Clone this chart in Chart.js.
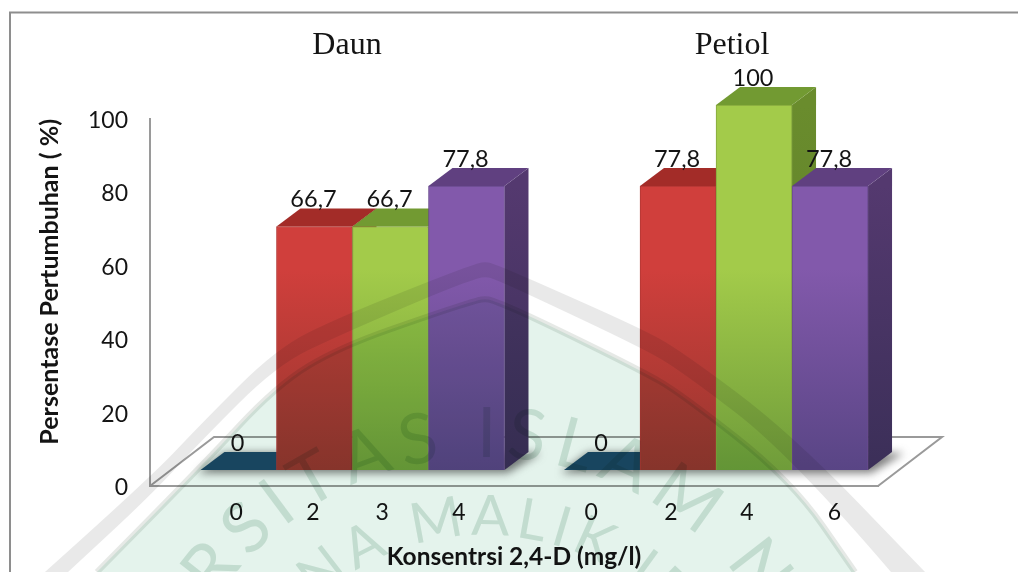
<!DOCTYPE html>
<html><head><meta charset="utf-8">
<style>html,body{margin:0;padding:0;background:#fff}canvas{display:block}</style>
<script src="https://cdn.jsdelivr.net/npm/chart.js@4"></script>
</head><body><canvas id="c" width="1018" height="572"></canvas>
<script>
const groupTitles = ['Daun', 'Petiol'];
const daunCategories = ['0', '2', '3', '4'];
const petiolCategories = ['0', '2', '4', '6'];
const daunValues = [0, 66.7, 66.7, 77.8];
const petiolValues = [0, 77.8, 100, 77.8];
const yTickValues = [0, 20, 40, 60, 80, 100];
const yAxisTitle = 'Persentase Pertumbuhan ( %)';
const xAxisTitle = 'Konsentrsi 2,4-D (mg/l)';

const GROUP_SHIFT = 4.783;
const xTickSlots = [-0.03, 0.98, 1.89, 2.90, 4.64, 5.69, 6.69, 7.84];
const DEPTH_X = 24, DEPTH_Y = 18;
const FONT = 'Lato, Carlito, sans-serif';
const INK = '#141414';

const palette = [
  { top:'#d03f3c', bot:'#96362e', side:'#8e2a26', side2:'#8e2a26', cap:'#a32c28', edge:'#b23633' },
  { top:'#a3cb4a', bot:'#6f9c3a', side:'#6a8c2d', side2:'#5c7d28', cap:'#729a32', edge:'#84a63c' },
  { top:'#8259ab', bot:'#594585', side:'#54396f', side2:'#3b2f58', cap:'#604080', edge:'#694a8e' },
  { top:'#1d4a6c', bot:'#1d4a6c', side:'#1d4a6c', side2:'#1d4a6c', cap:'#1a4867', edge:'#1a4867' }
];
const colourOrder = [3, 0, 1, 2];

function pts(list){ return list.map(p => ({x:p[0], y:p[1]})); }
const arcOuter = pts([[45,572],[150,478],[200,425],[277,348],[340,317],[440,277],[478,263],[485,262],[492,263],[530,279],[640,328],[680,350],[791,433],[925,572]]);
const arcInner = pts([[68,572],[150,496],[200,442],[277,365],[340,335],[440,292],[478,278],[485,277],[492,278],[530,295],[640,347],[680,370],[791,455],[891,572]]);
const discEdge = pts([[97,572],[200,468],[277,385],[340,347],[440,312],[478,300],[485,299],[492,300],[530,316],[640,370],[680,393],[791,480],[855,572]]);

function traceCurve(ctx, list, reverse){
  const l = reverse ? list.slice().reverse() : list;
  ctx.lineTo(l[0].x, l[0].y);
  for (let i=1;i<l.length-1;i++){
    const mx=(l[i].x+l[i+1].x)/2, my=(l[i].y+l[i+1].y)/2;
    ctx.quadraticCurveTo(l[i].x,l[i].y,mx,my);
  }
  ctx.lineTo(l[l.length-1].x,l[l.length-1].y);
}

function arcText(ctx, str, cx, cy, R, font, gap, anchorIndex, anchorAngle, colour){
  ctx.save();
  ctx.font = font; ctx.fillStyle = colour; ctx.textAlign='center'; ctx.textBaseline='alphabetic';
  const adv = [...str].map(ch => ctx.measureText(ch).width + gap);
  let before = 0; for (let i=0;i<anchorIndex;i++) before += adv[i];
  let a = anchorAngle - (before + adv[anchorIndex]/2)/R;
  [...str].forEach((ch,i)=>{
    const mid = a + adv[i]/2/R;
    ctx.save(); ctx.translate(cx+Math.sin(mid)*R, cy-Math.cos(mid)*R); ctx.rotate(mid);
    ctx.fillText(ch,0,0); ctx.restore();
    a += adv[i]/R;
  });
  ctx.restore();
}

const scene = {
  id:'scene',
  beforeDraw(chart){
    const {ctx, chartArea:a} = chart;
    ctx.save();
    ctx.fillStyle='#fff'; ctx.fillRect(0,0,1018,572);
    ctx.strokeStyle='#8e8e8e'; ctx.lineWidth=2;
    ctx.beginPath(); ctx.moveTo(10,572); ctx.lineTo(10,12.5); ctx.lineTo(1018,12.5); ctx.stroke();
    ctx.strokeStyle='#9a9a9a';
    const dx=64, dy=49;
    ctx.beginPath(); ctx.moveTo(a.left,a.bottom); ctx.lineTo(a.left+dx,a.bottom-dy); ctx.lineTo(a.right+dx,a.bottom-dy); ctx.lineTo(a.right,a.bottom); ctx.stroke();
    ctx.restore();
  },
  beforeDatasetsDraw(chart){
    const {ctx} = chart;
    const items=[];
    chart.data.datasets.forEach((ds,di)=>{
      chart.getDatasetMeta(di).data.forEach((el,i)=>items.push({el,i}));
    });
    items.sort((p,q)=>p.el.x-q.el.x);
    ctx.save();
    ctx.filter='blur(4px)'; ctx.fillStyle='rgba(70,70,70,.7)';
    chart.data.datasets.forEach((ds,di)=>{
      const d=chart.getDatasetMeta(di).data, f=d[0], l=d[d.length-1];
      const L=f.x-f.width/2, R=l.x+l.width/2, B=l.base;
      ctx.beginPath(); ctx.moveTo(L-3,B+3); ctx.lineTo(R+3,B+3); ctx.lineTo(R+DEPTH_X+12,B-DEPTH_Y+1); ctx.lineTo(L+DEPTH_X,B-DEPTH_Y+1); ctx.closePath(); ctx.fill();
    });
    ctx.restore();
    items.forEach(({el,i})=>{
      const c=palette[colourOrder[i]];
      const L=el.x-el.width/2, R=el.x+el.width/2, T=el.y, B=el.base;
      if (B-T>1){
        const g=ctx.createLinearGradient(0,T,0,B); g.addColorStop(0,c.side); g.addColorStop(1,c.side2);
        ctx.fillStyle=g;
        ctx.beginPath(); ctx.moveTo(R,T); ctx.lineTo(R+DEPTH_X,T-DEPTH_Y); ctx.lineTo(R+DEPTH_X,B-DEPTH_Y); ctx.lineTo(R,B); ctx.closePath(); ctx.fill();
      }
      ctx.fillStyle=c.cap;
      ctx.beginPath(); ctx.moveTo(L,T); ctx.lineTo(L+DEPTH_X,T-DEPTH_Y); ctx.lineTo(R+DEPTH_X,T-DEPTH_Y); ctx.lineTo(R,T); ctx.closePath(); ctx.fill();
    });
  },
  afterDatasetsDraw(chart){
    const {ctx} = chart;
    ctx.save();
    ctx.font='23.5px '+FONT; ctx.fillStyle=INK; ctx.textAlign='center'; ctx.textBaseline='middle';
    chart.data.datasets.forEach((ds,di)=>{
      chart.getDatasetMeta(di).data.forEach((el,i)=>{
        ctx.fillText(String(ds.data[i].y).replace('.',','), el.x-1, el.y-27);
      });
    });
    ctx.font='32px "Liberation Serif", serif';
    ctx.fillText(groupTitles[0],347,46);
    ctx.fillText(groupTitles[1],732,46);
    ctx.restore();
  },
  afterDraw(chart){
    const {ctx} = chart;
    ctx.save();
    ctx.globalCompositeOperation='multiply';
    ctx.fillStyle='#e9e9e9';
    ctx.beginPath(); ctx.moveTo(arcOuter[0].x,arcOuter[0].y);
    traceCurve(ctx,arcOuter,false); traceCurve(ctx,arcInner,true); ctx.closePath(); ctx.fill();
    ctx.fillStyle='#e4f3ec';
    ctx.beginPath(); ctx.moveTo(discEdge[0].x,discEdge[0].y);
    traceCurve(ctx,discEdge,false); ctx.closePath(); ctx.fill();
    ctx.strokeStyle='#e6e9e6'; ctx.lineWidth=6;
    ctx.beginPath(); ctx.moveTo(discEdge[0].x,discEdge[0].y);
    traceCurve(ctx,discEdge,false); ctx.stroke();
    arcText(ctx,'UNIVERSITAS ISLAM NEGERI',485,782,325,'400 70px Lato, sans-serif',9,12,0.005,'#d9e7e0');
    arcText(ctx,'MAULANA MALIK IBRAHIM',485,785,250,'400 56px Lato, sans-serif',6,9,0.02,'#d9e7e0');
    ctx.restore();
  }
};

function frontFill(ctx){
  const chart=ctx.chart, y=chart.scales.yBar;
  const c=palette[colourOrder[ctx.dataIndex] ?? 0];
  if(!y) return c.top;
  const y0=y.getPixelForValue(100), y1=y.getPixelForValue(0);
  if(!Number.isFinite(y0)||!Number.isFinite(y1)) return c.top;
  const g=chart.ctx.createLinearGradient(0,y0,0,y1);
  g.addColorStop(0,c.top); g.addColorStop(.45,c.top); g.addColorStop(1,c.bot);
  return g;
}
function frontEdge(ctx){ return palette[colourOrder[ctx.dataIndex] ?? 0].edge; }
function seriesPoints(values, shift){ return values.map((v,i)=>({x:i+shift,y:v})); }

const dsCommon = { yAxisID:'yBar', xAxisID:'x', clip:false, grouped:false, barThickness:76,
  backgroundColor:frontFill, borderColor:frontEdge, borderWidth:1 };

new Chart(document.getElementById('c').getContext('2d'),{
  type:'bar',
  data:{ datasets:[
    Object.assign({label:groupTitles[0],data:seriesPoints(daunValues,0)},dsCommon),
    Object.assign({label:groupTitles[1],data:seriesPoints(petiolValues,GROUP_SHIFT)},dsCommon)
  ]},
  options:{
    responsive:false, animation:false, events:[],
    layout:{padding:{top:119,right:140,left:0,bottom:0}},
    plugins:{legend:{display:false},title:{display:false},tooltip:{enabled:false}},
    scales:{
      x:{ type:'linear', position:'bottom', min:-1.164, max:8.414, offset:false,
        grid:{display:false,drawTicks:false}, border:{display:true,color:'#9a9a9a',width:2},
        afterBuildTicks(s){ s.ticks=xTickSlots.map(v=>({value:v})); },
        afterFit(s){ s.height=86; },
        ticks:{ autoSkip:false, maxRotation:0, padding:13, color:INK, font:{family:FONT,size:23},
          callback(v,i){ return daunCategories.concat(petiolCategories)[i]; } },
        title:{display:true,text:xAxisTitle,color:INK,font:{family:FONT,size:24.5,weight:'bold'},padding:{top:0,bottom:0}}
      },
      y:{ type:'linear', position:'left', min:0, max:100,
        grid:{display:false,drawTicks:false}, border:{display:true,color:'#9a9a9a',width:2},
        afterBuildTicks(s){ s.ticks=yTickValues.map(v=>({value:v})); },
        afterFit(s){ s.width=150; },
        ticks:{ padding:22, color:INK, labelOffset:1.5, font:{family:FONT,size:23} },
        title:{display:true,text:yAxisTitle,align:'end',color:INK,font:{family:FONT,size:25,weight:'bold'},padding:{top:35,bottom:0}}
      },
      yBar:{ type:'linear', display:false, min:-4.38, max:96.16 }
    }
  },
  plugins:[scene]
});
</script></body></html>
